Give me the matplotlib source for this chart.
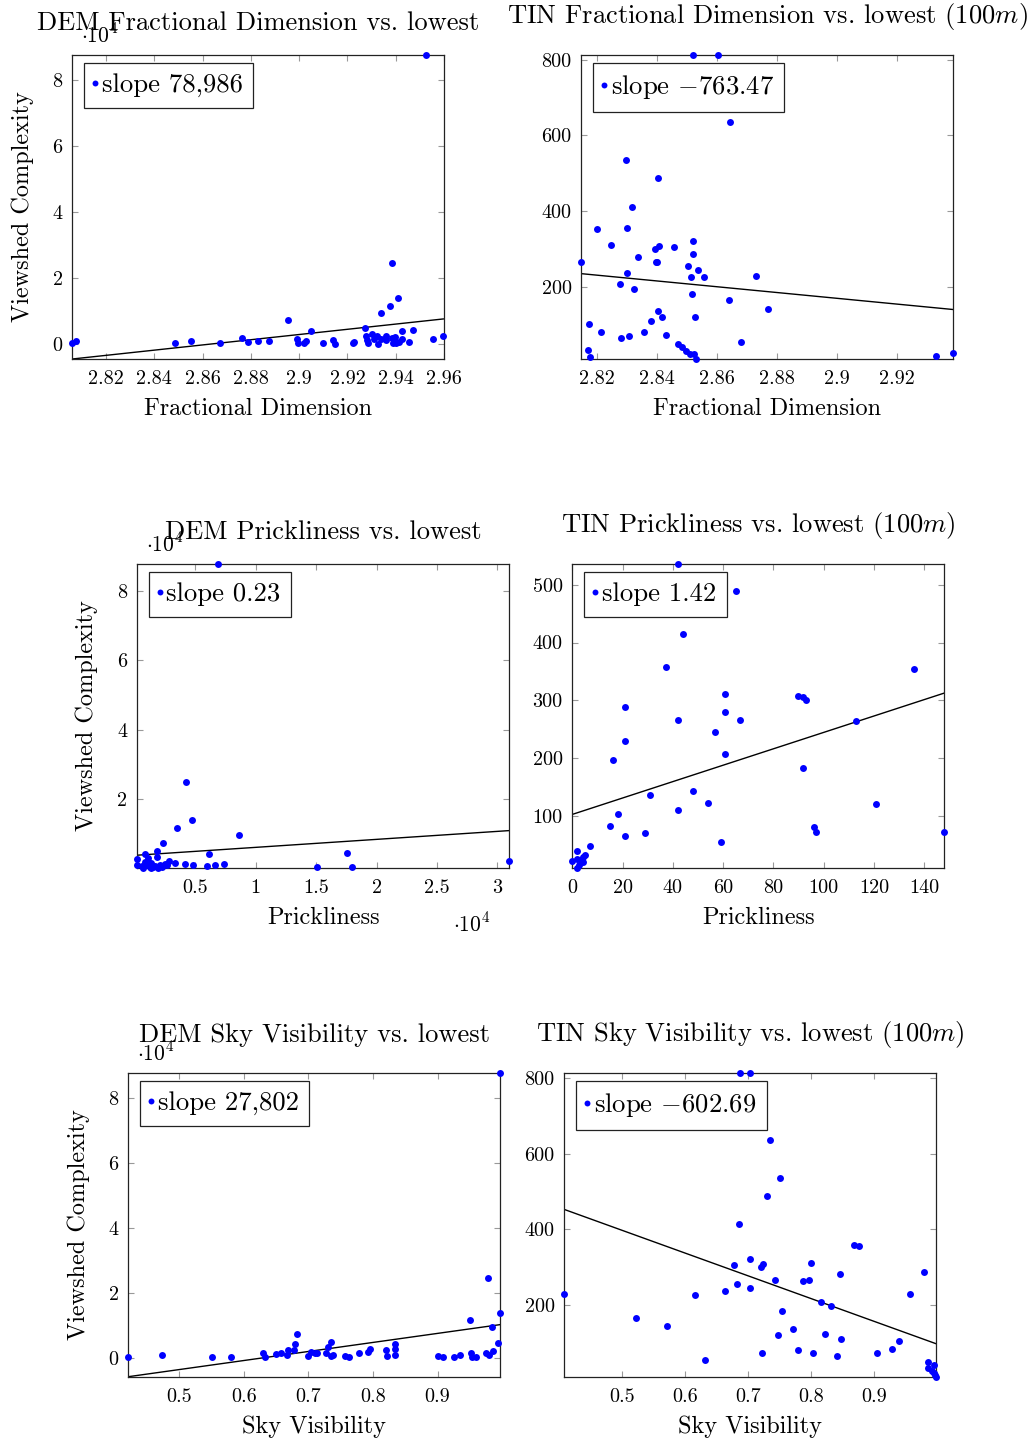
import numpy as np
import matplotlib
matplotlib.use("Agg")
import matplotlib.pyplot as plt

plt.rcParams['font.family'] = 'cmr10'
plt.rcParams['mathtext.fontset'] = 'cm'
plt.rcParams['axes.formatter.use_mathtext'] = True

# --- DEM fractional dimension ---
dem_fd_x = [2.806, 2.8076, 2.8485, 2.855, 2.867, 2.8765, 2.879, 2.8828, 2.8874, 2.8953,
            2.899, 2.8996, 2.902, 2.903, 2.905, 2.910, 2.914, 2.9148, 2.9221, 2.9227,
            2.9271, 2.9276, 2.928, 2.9285, 2.930, 2.9312, 2.9326, 2.9324, 2.934, 2.934,
            2.9359, 2.936, 2.9378, 2.9384, 2.9386, 2.939, 2.9397, 2.940, 2.941, 2.9414,
            2.9428, 2.9428, 2.9457, 2.947, 2.9524, 2.9553, 2.9597]
dem_fd_y = [300, 1000, 500, 1100, 500, 1800, 800, 1100, 1000, 7300,
            1600, 300, 400, 900, 4100, 500, 1300, 200, 500, 800,
            4900, 2500, 1300, 300, 3100, 1500, 100, 2600, 9600, 1500,
            2500, 1200, 11500, 24700, 1800, 300, 2300, 500, 13900, 800,
            4100, 1500, 600, 4400, 87800, 1600, 2400]

# --- TIN fractional dimension ---
tin_fd_x = [2.8149, 2.8171, 2.8176, 2.8179, 2.8203, 2.8216, 2.8247, 2.8277, 2.8281, 2.8299,
            2.830, 2.8302, 2.8308, 2.8318, 2.8326, 2.8339, 2.8357, 2.838, 2.8393, 2.8399,
            2.8403, 2.8404, 2.8404, 2.8408, 2.8417, 2.8432, 2.8459, 2.847, 2.8484, 2.8498,
            2.8506, 2.8511, 2.8516, 2.8518, 2.852, 2.8521, 2.8523, 2.8524, 2.8528, 2.853,
            2.8539, 2.8559, 2.8606, 2.864, 2.8644, 2.868, 2.873, 2.8773, 2.9331, 2.9389]
tin_fd_y = [266, 33, 103, 15, 353, 82, 310, 207, 65, 535,
            357, 236, 71, 412, 196, 280, 80, 110, 300, 265,
            266, 488, 137, 307, 122, 73, 305, 49, 41, 31,
            255, 22, 227, 182, 813, 286, 322, 24, 121, 10,
            245, 226, 813, 165, 635, 55, 229, 142, 17, 25]

# --- DEM prickliness ---
dem_pr_x = [166, 190, 553, 829, 829, 912, 1105, 1243, 1300, 1519,
            1851, 1851, 1934, 2210, 2293, 2486, 2845, 3315, 3508, 4171,
            4254, 4696, 4807, 5939, 6133, 6602, 6906, 7376, 8646, 15083,
            17569, 17983, 30994, 690, 1300, 1657, 2072, 2624]
dem_pr_y = [1000, 2740, 720, 4080, 1970, 1000, 2930, 430, 1490, 340,
            4940, 3220, 240, 530, 7250, 1200, 2260, 1680, 11570, 1300,
            24800, 13970, 1010, 720, 4080, 910, 87800, 1390, 9650, 340,
            4370, 340, 2260, 240, 240, 720, 1000, 1000]

# --- TIN prickliness ---
tin_pr_x = [0, 1.9, 1.7, 1.9, 2.7, 3.4, 4.1, 4.1, 5.0, 7.0,
            15.1, 16.0, 18.0, 21.0, 21.0, 21.0, 29.0, 31.0, 37.1, 41.9,
            41.9, 41.9, 44.0, 47.9, 54.1, 56.8, 59.0, 60.9, 60.9, 60.9,
            65.1, 66.9, 89.9, 91.9, 92.9, 91.9, 96.0, 96.9, 112.9, 121.0,
            136.0, 148.0]
tin_pr_y = [21.5, 39.4, 24.4, 10, 14.5, 23.2, 20.3, 29, 31.9, 47.5,
            82, 196, 103, 64.8, 287.6, 228.8, 70.6, 135.8, 358, 536.5,
            266.3, 109.8, 414, 142.1, 121.9, 245.5, 54.4, 310.7, 280, 207.4,
            489, 266.3, 307.9, 305.5, 300.3, 182, 79.8, 71.1, 264, 119.6,
            354.6, 71.7]

# --- DEM sky visibility ---
dem_sv_x = [0.4208, 0.4736, 0.5507, 0.5807, 0.6293, 0.633, 0.650, 0.6578, 0.6671, 0.6687,
            0.6774, 0.6795, 0.6816, 0.6997, 0.7043, 0.7095, 0.7131, 0.7266, 0.7307, 0.7349,
            0.7354, 0.7385, 0.7566, 0.7633, 0.7778, 0.7923, 0.7949, 0.8197, 0.8223, 0.8342,
            0.8347, 0.8342, 0.8999, 0.9087, 0.9258, 0.9346, 0.950, 0.9511, 0.9537, 0.9594,
            0.9749, 0.978, 0.979, 0.9837, 0.9858, 0.994, 0.9961, 0.9972]
dem_sv_y = [300, 1030, 510, 510, 1540, 410, 1230, 1640, 920, 2560,
            2560, 4310, 7380, 620, 2050, 1540, 1740, 1540, 3380, 5030,
            620, 1130, 720, 410, 1540, 1950, 2870, 2670, 720, 2870,
            4310, 1130, 820, 410, 310, 1030, 11690, 1740, 510, 510,
            1740, 24900, 1130, 9740, 2360, 4620, 14050, 87900]

# --- TIN sky visibility ---
tin_sv_x = [0.4085, 0.5228, 0.5709, 0.6159, 0.6317, 0.6635, 0.6783, 0.6825, 0.6852, 0.6873,
            0.7032, 0.7032, 0.7037, 0.7201, 0.7222, 0.7243, 0.7307, 0.7349, 0.7434, 0.7481,
            0.7503, 0.754, 0.7709, 0.7788, 0.7868, 0.7968, 0.8005, 0.8037, 0.8153, 0.8222,
            0.8323, 0.8407, 0.846, 0.8471, 0.8683, 0.8757, 0.9042, 0.9291, 0.9392, 0.9571,
            0.9788, 0.9862, 0.9857, 0.9915, 0.9958, 0.9958, 0.9968, 0.9979]
tin_sv_y = [230, 166, 143, 227, 55.5, 236, 306, 255, 414, 815,
            815, 322, 246, 300, 73, 308, 489, 637, 267, 121.6,
            536, 183, 137, 81, 264, 267, 311, 73, 208, 123,
            196.5, 66, 281, 111, 358, 355, 72, 83, 104, 229,
            288, 49, 32, 26.4, 41.4, 20, 14, 10]

# regression lines (slope, intercept)
slopes = [78986, -763.47, 0.23, 1.42, 27802, -602.69]
intercepts = [-226075, 2384.3, 3800, 102.3, -17311, 699.1]
slope_labels = ["slope 78,986", r"slope $-763.47$", "slope 0.23",
                "slope 1.42", "slope 27,802", r"slope $-602.69$"]

titles = ["DEM Fractional Dimension vs. lowest",
          r"TIN Fractional Dimension vs. lowest (100$m$)",
          "DEM Prickliness vs. lowest",
          r"TIN Prickliness vs. lowest (100$m$)",
          "DEM Sky Visibility vs. lowest",
          r"TIN Sky Visibility vs. lowest (100$m$)"]
xlabels = ["Fractional Dimension", "Fractional Dimension", "Prickliness",
           "Prickliness", "Sky Visibility", "Sky Visibility"]

xticks = [[2.82, 2.84, 2.86, 2.88, 2.90, 2.92, 2.94, 2.96],
          [2.82, 2.84, 2.86, 2.88, 2.90, 2.92],
          [5000, 10000, 15000, 20000, 25000, 30000],
          [0, 20, 40, 60, 80, 100, 120, 140],
          [0.5, 0.6, 0.7, 0.8, 0.9],
          [0.5, 0.6, 0.7, 0.8, 0.9]]
xticklabels = [["2.82", "2.84", "2.86", "2.88", "2.9", "2.92", "2.94", "2.96"],
               ["2.82", "2.84", "2.86", "2.88", "2.9", "2.92"],
               ["0.5", "1", "1.5", "2", "2.5", "3"],
               ["0", "20", "40", "60", "80", "100", "120", "140"],
               ["0.5", "0.6", "0.7", "0.8", "0.9"],
               ["0.5", "0.6", "0.7", "0.8", "0.9"]]
yticks = [[0, 20000, 40000, 60000, 80000],
          [200, 400, 600, 800],
          [20000, 40000, 60000, 80000],
          [100, 200, 300, 400, 500],
          [0, 20000, 40000, 60000, 80000],
          [200, 400, 600, 800]]
yticklabels = [["0", "2", "4", "6", "8"],
               ["200", "400", "600", "800"],
               ["2", "4", "6", "8"],
               ["100", "200", "300", "400", "500"],
               ["0", "2", "4", "6", "8"],
               ["200", "400", "600", "800"]]

series = [(dem_fd_x, dem_fd_y), (tin_fd_x, tin_fd_y), (dem_pr_x, dem_pr_y),
          (tin_pr_x, tin_pr_y), (dem_sv_x, dem_sv_y), (tin_sv_x, tin_sv_y)]

W, H = 1032, 1444
# axes boxes in pixels: left, top, right, bottom
boxes = [(72.3, 54.7, 444.0, 359.0), (581.3, 54.7, 953.3, 359.0),
         (137.0, 563.7, 509.3, 867.7), (572.3, 563.7, 944.3, 867.7),
         (128.3, 1072.7, 500.3, 1376.7), (564.3, 1072.7, 935.7, 1376.7)]
title_gap = [25, 32, 25, 32, 31, 32]  # px from axes top to title baseline
show_ylabel = [True, False, True, False, True, False]
y_sci = [True, False, True, False, True, False]

fig = plt.figure(figsize=(W / 100, H / 100), dpi=100)
px = 72 / 100  # points per pixel

for i in range(6):
    l, t, r, b = boxes[i]
    ax = fig.add_axes([l / W, 1 - b / H, (r - l) / W, (b - t) / H])
    x = np.array(series[i][0], dtype=float)
    y = np.array(series[i][1], dtype=float)

    ax.plot(x, y, 'o', color='blue', markersize=5.0, markeredgewidth=0,
            clip_on=False, zorder=3, label=slope_labels[i])
    xl = np.array([x.min(), x.max()])
    yl = slopes[i] * xl + intercepts[i]
    ax.plot(xl, yl, '-', color='black', lw=1.0, zorder=2)

    ax.set_xlim(x.min(), x.max())
    ax.set_ylim(min(y.min(), yl.min()), max(y.max(), yl.max()))

    ax.set_xticks(xticks[i])
    ax.set_xticklabels(xticklabels[i])
    ax.set_yticks(yticks[i])
    ax.set_yticklabels(yticklabels[i])
    ax.tick_params(direction='in', length=6 * px, width=0.8, color='#999999',
                   top=True, right=True, labelsize=14.5)
    ax.tick_params(axis='x', pad=8)
    ax.tick_params(axis='y', pad=7)
    for s in ax.spines.values():
        s.set_linewidth(0.9)
        s.set_color('#222222')

    ax.annotate(titles[i], xy=(0.5, 1), xycoords='axes fraction',
                xytext=(0, title_gap[i] * px), textcoords='offset points',
                ha='center', va='baseline', fontsize=19.1)

    ax.set_xlabel(xlabels[i], fontsize=17.5)
    ax.xaxis.set_label_coords(0.5, -50 / (b - t))
    ax.xaxis.label.set_va('center')
    if show_ylabel[i]:
        ax.set_ylabel("Viewshed Complexity", fontsize=17.5)
        ax.yaxis.set_label_coords(-50 / (r - l), 0.5)
        ax.yaxis.label.set_va('center')

    if y_sci[i]:
        ax.annotate(r'$\cdot 10^{4}$', xy=(0, 1), xycoords='axes fraction',
                    xytext=(9 * px, 12 * px), textcoords='offset points',
                    ha='left', va='baseline', fontsize=15.5)
    if i == 2:
        ax.annotate(r'$\cdot 10^{4}$', xy=(1, 0), xycoords='axes fraction',
                    xytext=(-19 * px, -64 * px), textcoords='offset points',
                    ha='right', va='baseline', fontsize=15.5)

    leg = ax.legend(loc='upper left', bbox_to_anchor=(12 / (r - l), 1 - 8 / (b - t)),
                    borderaxespad=0, fontsize=19.2, handlelength=0.0,
                    handletextpad=0.25, borderpad=0.4, fancybox=False,
                    framealpha=1, edgecolor='#222222', numpoints=1,
                    markerscale=0.85)
    leg.get_frame().set_linewidth(0.9)

fig.savefig('out.png', dpi=100)
